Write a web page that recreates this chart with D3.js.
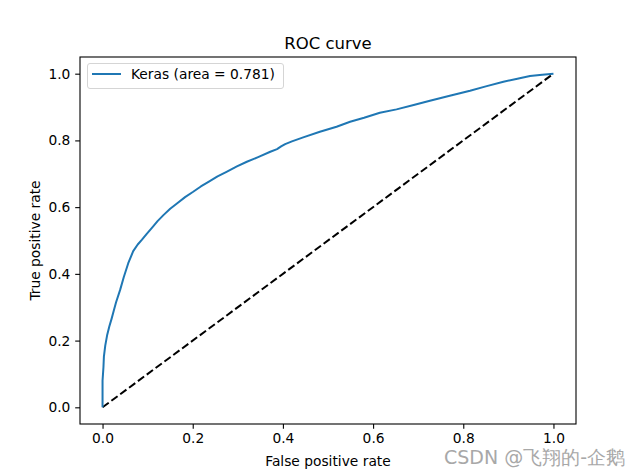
<!DOCTYPE html>
<html>
<head>
<meta charset="utf-8">
<script src="https://cdn.jsdelivr.net/npm/d3@7"></script>
<style>
  html, body { margin: 0; padding: 0; background: #fff; }
  svg text { font-family: "DejaVu Sans", sans-serif; }
</style>
</head>
<body>
<div id="chart"></div>
<script>
// ---- data ----
const fpr = [0, 0, 0.002, 0.003, 0.006, 0.010, 0.015, 0.020, 0.025, 0.030, 0.039, 0.047, 0.057, 0.068, 0.078, 0.087, 0.098, 0.109, 0.122, 0.135, 0.150, 0.165, 0.183, 0.201, 0.218, 0.235, 0.255, 0.275, 0.298, 0.320, 0.345, 0.372, 0.387, 0.396, 0.405, 0.420, 0.445, 0.482, 0.519, 0.549, 0.580, 0.615, 0.652, 0.690, 0.726, 0.770, 0.815, 0.850, 0.889, 0.920, 0.948, 0.975, 1.0];
const tpr = [0, 0.08, 0.12, 0.152, 0.185, 0.215, 0.242, 0.265, 0.29, 0.315, 0.352, 0.39, 0.432, 0.468, 0.488, 0.502, 0.52, 0.537, 0.558, 0.576, 0.595, 0.611, 0.63, 0.646, 0.662, 0.676, 0.692, 0.706, 0.722, 0.736, 0.750, 0.766, 0.774, 0.782, 0.789, 0.797, 0.809, 0.826, 0.841, 0.856, 0.868, 0.883, 0.893, 0.906, 0.919, 0.934, 0.949, 0.962, 0.976, 0.985, 0.993, 0.997, 1.0];
const diagX = [0, 1];
const diagY = [0, 1];
const xTicks = [0.0, 0.2, 0.4, 0.6, 0.8, 1.0];
const yTicks = [0.0, 0.2, 0.4, 0.6, 0.8, 1.0];
const seriesLabel = "Keras (area = 0.781)";
const titleText = "ROC curve";
const xLabelText = "False positive rate";
const yLabelText = "True positive rate";
const watermark = "CSDN @飞翔的-企鹅";

// ---- layout ----
const W = 640, H = 476;
const L = 80, R = 576, T = 57, B = 424;

const svg = d3.select("#chart").append("svg").attr("width", W).attr("height", H);
const x = d3.scaleLinear().domain([-0.05, 1.05]).range([L, R]);
const y = d3.scaleLinear().domain([-0.05, 1.05]).range([B, T]);

// diagonal
svg.append("path")
  .datum(diagX.map((d, i) => [d, diagY[i]]))
  .attr("d", d3.line().x(d => x(d[0])).y(d => y(d[1])))
  .attr("fill", "none").attr("stroke", "#000").attr("stroke-width", 2)
  .attr("stroke-dasharray", "7.7,3.3");

// ROC curve
svg.append("path")
  .datum(fpr.map((d, i) => [d, tpr[i]]))
  .attr("d", d3.line().x(d => x(d[0])).y(d => y(d[1])))
  .attr("fill", "none").attr("stroke", "#1f77b4").attr("stroke-width", 2)
  .attr("stroke-linejoin", "round");

// axes
const fmt = d3.format(".1f");
const xAxis = svg.append("g").attr("transform", `translate(0,${B})`)
  .call(d3.axisBottom(x).tickValues(xTicks).tickFormat(fmt).tickSize(4.8).tickPadding(4.8));
const yAxis = svg.append("g").attr("transform", `translate(${L},0)`)
  .call(d3.axisLeft(y).tickValues(yTicks).tickFormat(fmt).tickSize(4.8).tickPadding(4.8));
[xAxis, yAxis].forEach(g => {
  g.select(".domain").remove();
  g.selectAll("line").attr("stroke", "#000").attr("stroke-width", 1.1);
  g.selectAll("text").attr("font-size", "13.8px").attr("fill", "#000")
    .attr("font-family", "DejaVu Sans, sans-serif");
});

// frame
svg.append("rect").attr("x", L).attr("y", T).attr("width", R - L).attr("height", B - T)
  .attr("fill", "none").attr("stroke", "#000").attr("stroke-width", 1.1);

// title and labels
svg.append("text").attr("x", (L + R) / 2).attr("y", 49).attr("text-anchor", "middle")
  .attr("font-size", "16.5px").text(titleText);
svg.append("text").attr("x", (L + R) / 2).attr("y", 466).attr("text-anchor", "middle")
  .attr("font-size", "13.8px").text(xLabelText);
svg.append("text").attr("transform", `translate(40,${(T + B) / 2}) rotate(-90)`)
  .attr("text-anchor", "middle").attr("font-size", "13.8px").text(yLabelText);

// legend
const lg = svg.append("g");
lg.append("rect").attr("x", 87.5).attr("y", 63.5).attr("width", 196).attr("height", 25)
  .attr("rx", 2.5).attr("fill", "#fff").attr("fill-opacity", 0.8)
  .attr("stroke", "#d5d5d5").attr("stroke-width", 1);
lg.append("line").attr("x1", 92).attr("x2", 121).attr("y1", 74).attr("y2", 74)
  .attr("stroke", "#1f77b4").attr("stroke-width", 2);
lg.append("text").attr("x", 131).attr("y", 79).attr("font-size", "13.8px").text(seriesLabel);

// watermark
svg.append("text").attr("x", 625).attr("y", 464).attr("text-anchor", "end")
  .attr("font-family", "Noto Sans CJK SC, sans-serif")
  .attr("font-size", "19px").attr("fill", "#a8a8a8").text(watermark);
</script>
</body>
</html>
